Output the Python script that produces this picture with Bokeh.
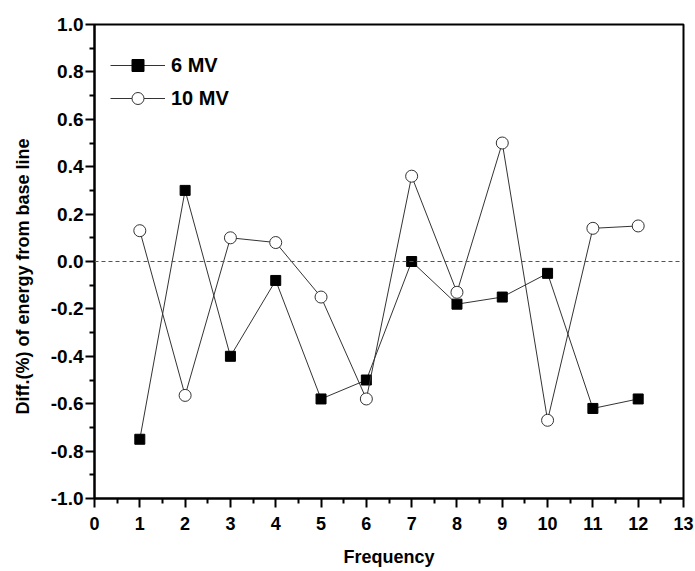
from bokeh.plotting import figure
from bokeh.models import FixedTicker, Span, Legend, LegendItem, Range1d
from bokeh.embed import file_html
from bokeh.resources import INLINE

freq = [1, 2, 3, 4, 5, 6, 7, 8, 9, 10, 11, 12]
mv6 = [-0.75, 0.30, -0.40, -0.08, -0.58, -0.50, 0.00, -0.18, -0.15, -0.05, -0.62, -0.58]
mv10 = [0.13, -0.565, 0.10, 0.08, -0.15, -0.58, 0.36, -0.13, 0.50, -0.67, 0.14, 0.15]

x_ticks = list(range(0, 14))
x_minor = [i + 0.5 for i in range(0, 13)]
y_ticks = [-1.0, -0.8, -0.6, -0.4, -0.2, 0.0, 0.2, 0.4, 0.6, 0.8, 1.0]
y_tick_labels = ["-1.0", "-0.8", "-0.6", "-0.4", "-0.2", "0.0", "0.2", "0.4", "0.6", "0.8", "1.0"]
y_minor = [-0.9, -0.7, -0.5, -0.3, -0.1, 0.1, 0.3, 0.5, 0.7, 0.9]

FONT = "Liberation Sans"

p = figure(width=695, height=571, output_backend="svg", toolbar_location=None,
           x_range=Range1d(0, 13), y_range=Range1d(-1.0, 1.0),
           min_border_left=94, min_border_top=24, min_border_right=12, min_border_bottom=73)
p.xgrid.visible = False
p.ygrid.visible = False
p.outline_line_color = "black"
p.outline_line_width = 2
p.background_fill_color = "white"
p.border_fill_color = "white"

p.xaxis.ticker = FixedTicker(ticks=x_ticks, minor_ticks=x_minor)
p.yaxis.ticker = FixedTicker(ticks=y_ticks, minor_ticks=y_minor)
p.yaxis.major_label_overrides = {t: l for t, l in zip(y_ticks, y_tick_labels)}
p.xaxis.major_label_overrides = {t: str(t) for t in x_ticks}

for ax in (p.xaxis[0], p.yaxis[0]):
    ax.axis_line_width = 2
    ax.axis_line_color = "black"
    ax.major_tick_line_width = 2
    ax.minor_tick_line_width = 2
    ax.major_tick_out = 9
    ax.major_tick_in = 0
    ax.minor_tick_out = 5
    ax.minor_tick_in = 0
    ax.major_label_text_font = FONT
    ax.major_label_text_font_style = "bold"
    ax.major_label_text_font_size = "18px"
    ax.major_label_text_color = "black"
    ax.axis_label_text_font = FONT
    ax.axis_label_text_font_style = "bold"
    ax.axis_label_text_font_size = "18px"
    ax.axis_label_text_color = "black"

p.yaxis.major_label_text_font_size = "19px"
p.xaxis.axis_label = "Frequency"
p.yaxis.axis_label = "Diff.(%) of energy from base line" + "\u00a0" * 6
p.xaxis.major_label_standoff = 9
p.yaxis.major_label_standoff = 2
p.xaxis.axis_label_standoff = 14
p.yaxis.axis_label_standoff = 15

zero = Span(location=0, dimension="width", line_color="#555555", line_width=1, line_dash="4 3")
p.add_layout(zero)

l6 = p.line(freq, mv6, line_color="#333333", line_width=1)
s6 = p.scatter(freq, mv6, marker="square", size=10, fill_color="black", line_color="black")
l10 = p.line(freq, mv10, line_color="#333333", line_width=1)
s10 = p.scatter(freq, mv10, marker="circle", size=12, fill_color="white", line_color="#333333", line_width=1)

legend = Legend(items=[LegendItem(label="6 MV", renderers=[l6, s6]),
                       LegendItem(label="10 MV", renderers=[l10, s10])],
                location=(6, 375), margin=0, padding=10, spacing=3,
                glyph_width=55, glyph_height=30, label_height=30, label_standoff=6,
                label_text_font=FONT, label_text_font_style="bold", label_text_font_size="20px",
                label_text_color="black",
                background_fill_alpha=0, border_line_alpha=0)
p.add_layout(legend)

open("out.html", "w").write(file_html(p, INLINE))
